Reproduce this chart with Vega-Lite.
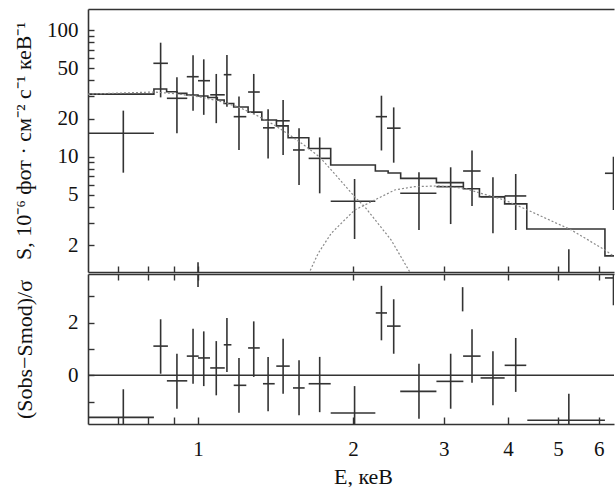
{
  "$schema": "https://vega.github.io/schema/vega-lite/v6.json",
  "padding": {"left": 12, "top": 9, "right": 0, "bottom": 0},
  "background": "white",
  "config": {
    "font": "Liberation Serif, Times New Roman, serif",
    "view": {"stroke": null},
    "concat": {"spacing": 0},
    "axis": {
      "labelFont": "Liberation Serif, Times New Roman, serif", "titleFont": "Liberation Serif, Times New Roman, serif",
      "labelFontSize": 21, "titleFontSize": 22, "titleFontWeight": "normal",
      "labelColor": "#111", "titleColor": "#111",
      "domainColor": "#333", "tickColor": "#333", "domainWidth": 1.6, "tickWidth": 1.4,
      "grid": false, "labelOverlap": false, "labelFlush": false
    }
  },
  "datasets": {
    "spec": [
      {"E": 0.716, "Elo": 0.58, "Ehi": 0.821, "S": 15.3, "Slo": 7.48, "Shi": 23.1},
      {"E": 0.846, "Elo": 0.819, "Ehi": 0.874, "S": 54.6, "Slo": 29.4, "Shi": 79.4},
      {"E": 0.910, "Elo": 0.870, "Ehi": 0.953, "S": 28.9, "Slo": 15.3, "Shi": 42.4},
      {"E": 0.978, "Elo": 0.951, "Ehi": 1.003, "S": 42.8, "Slo": 23.1, "Shi": 63.1},
      {"E": 1.026, "Elo": 1.0, "Ehi": 1.055, "S": 39.8, "Slo": 21.4, "Shi": 58.7},
      {"E": 1.085, "Elo": 1.056, "Ehi": 1.127, "S": 30.8, "Slo": 18.4, "Shi": 45.0},
      {"E": 1.138, "Elo": 1.122, "Ehi": 1.161, "S": 44.4, "Slo": 24.8, "Shi": 63.5},
      {"E": 1.201, "Elo": 1.173, "Ehi": 1.241, "S": 20.7, "Slo": 11.3, "Shi": 29.8},
      {"E": 1.283, "Elo": 1.251, "Ehi": 1.318, "S": 32.4, "Slo": 21.7, "Shi": 45.0},
      {"E": 1.368, "Elo": 1.337, "Ehi": 1.409, "S": 16.9, "Slo": 9.7, "Shi": 23.7},
      {"E": 1.463, "Elo": 1.419, "Ehi": 1.507, "S": 19.2, "Slo": 10.3, "Shi": 28.0},
      {"E": 1.571, "Elo": 1.529, "Ehi": 1.611, "S": 11.3, "Slo": 5.98, "Shi": 16.8},
      {"E": 1.723, "Elo": 1.640, "Ehi": 1.810, "S": 9.7, "Slo": 5.14, "Shi": 14.2},
      {"E": 2.014, "Elo": 1.810, "Ehi": 2.21, "S": 4.45, "Slo": 2.24, "Shi": 6.67},
      {"E": 2.271, "Elo": 2.214, "Ehi": 2.328, "S": 20.7, "Slo": 11.2, "Shi": 30.3},
      {"E": 2.399, "Elo": 2.328, "Ehi": 2.474, "S": 16.8, "Slo": 8.97, "Shi": 24.5},
      {"E": 2.686, "Elo": 2.470, "Ehi": 2.904, "S": 5.14, "Slo": 2.64, "Shi": 7.54},
      {"E": 3.095, "Elo": 2.904, "Ehi": 3.276, "S": 5.80, "Slo": 2.94, "Shi": 8.25},
      {"E": 3.405, "Elo": 3.272, "Ehi": 3.538, "S": 7.71, "Slo": 4.08, "Shi": 11.2},
      {"E": 3.739, "Elo": 3.538, "Ehi": 3.94, "S": 4.83, "Slo": 2.49, "Shi": 6.87},
      {"E": 4.14, "Elo": 3.94, "Ehi": 4.34, "S": 4.90, "Slo": 2.64, "Shi": 7.30},
      {"E": 5.25, "Elo": 4.36, "Ehi": 6.17, "S": 1.0, "Slo": 0.6, "Shi": 1.86},
      {"E": 6.41, "Elo": 6.17, "Ehi": 6.65, "S": 7.40, "Slo": 3.79, "Shi": 10.0},
      {"E": 1.0, "Elo": 1.0, "Ehi": 1.0, "S": 0.9, "Slo": 0.7, "Shi": 1.47}
    ],
    "resid": [
      {"E": 0.716, "Elo": 0.58, "Ehi": 0.821, "r": -1.60, "rlo": -2.7, "rhi": -0.53},
      {"E": 0.846, "Elo": 0.819, "Ehi": 0.874, "r": 1.11, "rlo": 0.06, "rhi": 2.13},
      {"E": 0.910, "Elo": 0.870, "Ehi": 0.953, "r": -0.21, "rlo": -1.27, "rhi": 0.82},
      {"E": 0.978, "Elo": 0.951, "Ehi": 1.003, "r": 0.73, "rlo": -0.32, "rhi": 1.77},
      {"E": 1.026, "Elo": 1.0, "Ehi": 1.055, "r": 0.66, "rlo": -0.41, "rhi": 1.67},
      {"E": 1.085, "Elo": 1.056, "Ehi": 1.127, "r": 0.28, "rlo": -0.76, "rhi": 1.30},
      {"E": 1.138, "Elo": 1.122, "Ehi": 1.161, "r": 1.16, "rlo": 0.13, "rhi": 2.18},
      {"E": 1.201, "Elo": 1.173, "Ehi": 1.241, "r": -0.38, "rlo": -1.42, "rhi": 0.66},
      {"E": 1.283, "Elo": 1.251, "Ehi": 1.318, "r": 1.04, "rlo": -0.06, "rhi": 2.05},
      {"E": 1.368, "Elo": 1.337, "Ehi": 1.409, "r": -0.32, "rlo": -1.37, "rhi": 0.70},
      {"E": 1.463, "Elo": 1.419, "Ehi": 1.507, "r": 0.35, "rlo": -0.70, "rhi": 1.39},
      {"E": 1.571, "Elo": 1.529, "Ehi": 1.611, "r": -0.48, "rlo": -1.52, "rhi": 0.57},
      {"E": 1.723, "Elo": 1.640, "Ehi": 1.810, "r": -0.32, "rlo": -1.40, "rhi": 0.70},
      {"E": 2.014, "Elo": 1.810, "Ehi": 2.21, "r": -1.43, "rlo": -2.5, "rhi": -0.41},
      {"E": 2.271, "Elo": 2.214, "Ehi": 2.328, "r": 2.37, "rlo": 1.33, "rhi": 3.40},
      {"E": 2.399, "Elo": 2.328, "Ehi": 2.474, "r": 1.87, "rlo": 0.82, "rhi": 2.89},
      {"E": 2.686, "Elo": 2.470, "Ehi": 2.904, "r": -0.61, "rlo": -1.65, "rhi": 0.44},
      {"E": 3.095, "Elo": 2.904, "Ehi": 3.276, "r": -0.23, "rlo": -1.27, "rhi": 0.82},
      {"E": 3.265, "Elo": 3.265, "Ehi": 3.265, "r": 2.9, "rlo": 2.43, "rhi": 3.35},
      {"E": 3.405, "Elo": 3.272, "Ehi": 3.538, "r": 0.73, "rlo": -0.28, "rhi": 1.75},
      {"E": 3.739, "Elo": 3.538, "Ehi": 3.94, "r": -0.10, "rlo": -1.14, "rhi": 0.91},
      {"E": 4.14, "Elo": 3.94, "Ehi": 4.34, "r": 0.38, "rlo": -0.63, "rhi": 1.42},
      {"E": 5.25, "Elo": 4.36, "Ehi": 6.17, "r": -1.71, "rlo": -2.7, "rhi": -0.70},
      {"E": 6.41, "Elo": 6.17, "Ehi": 6.65, "r": 3.70, "rlo": 2.66, "rhi": 4.7},
      {"E": 1.0, "Elo": 1.0, "Ehi": 1.0, "r": 4.3, "rlo": 3.36, "rhi": 5.3}
    ],
    "model": [
      {"E": 0.58, "S": 31.2}, {"E": 0.821, "S": 34.2}, {"E": 0.869, "S": 32.6},
      {"E": 0.91, "S": 31.6}, {"E": 0.951, "S": 30.7}, {"E": 1.0, "S": 30.1},
      {"E": 1.045, "S": 29.3}, {"E": 1.09, "S": 28.0}, {"E": 1.124, "S": 26.3},
      {"E": 1.173, "S": 24.7}, {"E": 1.251, "S": 22.5}, {"E": 1.33, "S": 19.5},
      {"E": 1.42, "S": 17.5}, {"E": 1.496, "S": 14.1}, {"E": 1.641, "S": 11.6},
      {"E": 1.81, "S": 8.6}, {"E": 2.21, "S": 7.71}, {"E": 2.34, "S": 7.43},
      {"E": 2.475, "S": 6.75}, {"E": 2.904, "S": 6.24}, {"E": 3.276, "S": 5.59},
      {"E": 3.52, "S": 4.83}, {"E": 3.94, "S": 4.24}, {"E": 4.35, "S": 2.69},
      {"E": 6.17, "S": 1.65}, {"E": 6.7, "S": 1.65}
    ],
    "comp": [
      {"c": "A", "E": 0.6114, "S": 31.2}, {"c": "A", "E": 0.74, "S": 32.0}, {"c": "A", "E": 0.82, "S": 32.4},
      {"c": "A", "E": 0.9, "S": 31.5}, {"c": "A", "E": 1.0, "S": 29.8}, {"c": "A", "E": 1.1, "S": 27.5},
      {"c": "A", "E": 1.2, "S": 24.6}, {"c": "A", "E": 1.3, "S": 21.2}, {"c": "A", "E": 1.4, "S": 18.0},
      {"c": "A", "E": 1.5, "S": 15.0}, {"c": "A", "E": 1.6, "S": 12.5}, {"c": "A", "E": 1.72, "S": 10.0},
      {"c": "A", "E": 1.85, "S": 7.2}, {"c": "A", "E": 2.014, "S": 4.83}, {"c": "A", "E": 2.107, "S": 4.03},
      {"c": "A", "E": 2.372, "S": 2.2}, {"c": "A", "E": 2.575, "S": 1.24}, {"c": "A", "E": 2.7, "S": 0.9},
      {"c": "B", "E": 1.6, "S": 0.9}, {"c": "B", "E": 1.648, "S": 1.24}, {"c": "B", "E": 1.712, "S": 1.73},
      {"c": "B", "E": 1.815, "S": 2.49}, {"c": "B", "E": 2.014, "S": 3.79}, {"c": "B", "E": 2.203, "S": 4.55},
      {"c": "B", "E": 2.41, "S": 5.46}, {"c": "B", "E": 2.633, "S": 5.8}, {"c": "B", "E": 2.925, "S": 5.88},
      {"c": "B", "E": 3.29, "S": 5.63}, {"c": "B", "E": 3.545, "S": 5.14}, {"c": "B", "E": 3.94, "S": 4.55},
      {"c": "B", "E": 4.37, "S": 3.79}, {"c": "B", "E": 5.31, "S": 2.64}, {"c": "B", "E": 6.16, "S": 1.84},
      {"c": "B", "E": 6.7, "S": 1.45}
    ]
  },
  "vconcat": [
    {
      "width": 526,
      "height": 263,
      "resolve": {"axis": {"x": "independent"}},
      "layer": [
        {
          "data": {"name": "spec"},
          "mark": {"type": "rule", "stroke": "#333", "strokeWidth": 1.6, "clip": true},
          "encoding": {
            "x": {"field": "Elo", "type": "quantitative",
              "scale": {"type": "log", "domain": [0.6114, 6.425], "nice": false},
              "axis": {"orient": "bottom", "values": [0.7, 0.8, 0.9, 1, 2, 3, 4, 5, 6], "labels": false, "tickSize": -6, "title": null}},
            "x2": {"field": "Ehi"},
            "y": {"field": "S", "type": "quantitative",
              "scale": {"type": "log", "domain": [1.23, 146.5], "nice": false},
              "axis": {"orient": "left", "values": [2, 3, 4, 5, 6, 7, 8, 9, 10, 20, 30, 40, 50, 60, 70, 80, 90, 100],
                "labelExpr": "indexof([2, 5, 10, 20, 50, 100], datum.value) >= 0 ? format(datum.value, 'd') : ''",
                "tickSize": -6, "labelPadding": 16,
                "title": "S, 10⁻⁶ фот · см⁻² с⁻¹ кеВ⁻¹", "titlePadding": 11}}
          }
        },
        {
          "data": {"name": "spec"},
          "mark": {"type": "rule", "stroke": "#333", "strokeWidth": 1.6, "clip": true},
          "encoding": {
            "x": {"field": "E", "type": "quantitative",
              "scale": {"type": "log", "domain": [0.6114, 6.425], "nice": false},
              "axis": {"orient": "top", "ticks": false, "labels": false, "title": null}},
            "y": {"field": "Slo", "type": "quantitative",
              "scale": {"type": "log", "domain": [1.23, 146.5], "nice": false}},
            "y2": {"field": "Shi"}
          }
        },
        {
          "data": {"name": "model"},
          "mark": {"type": "line", "interpolate": "step-after", "stroke": "#333", "strokeWidth": 1.6, "clip": true},
          "encoding": {
            "x": {"field": "E", "type": "quantitative",
              "scale": {"type": "log", "domain": [0.6114, 6.425], "nice": false}, "axis": null},
            "y": {"field": "S", "type": "quantitative",
              "scale": {"type": "log", "domain": [1.23, 146.5], "nice": false}}
          }
        },
        {
          "data": {"name": "comp"},
          "mark": {"type": "line", "stroke": "#8a8a8a", "strokeWidth": 1.2, "strokeDash": [2, 2], "clip": true},
          "encoding": {
            "x": {"field": "E", "type": "quantitative",
              "scale": {"type": "log", "domain": [0.6114, 6.425], "nice": false}, "axis": null},
            "y": {"field": "S", "type": "quantitative",
              "scale": {"type": "log", "domain": [1.23, 146.5], "nice": false}},
            "detail": {"field": "c"}
          }
        }
      ]
    },
    {
      "width": 526,
      "height": 150,
      "resolve": {"axis": {"x": "independent"}},
      "layer": [
        {
          "data": {"values": [{"z": 0}]},
          "mark": {"type": "rule", "stroke": "#333", "strokeWidth": 1.6},
          "encoding": {
            "y": {"field": "z", "type": "quantitative",
              "scale": {"type": "linear", "domain": [-1.85, 3.85], "nice": false, "zero": false},
              "axis": {"orient": "left", "tickCount": 6,
                "labelExpr": "datum.value == 0 || datum.value == 2 ? datum.label : ''",
                "tickSize": -6, "labelPadding": 16,
                "title": "(Sobs−Smod)/σ", "titlePadding": 31}}
          }
        },
        {
          "data": {"name": "resid"},
          "mark": {"type": "rule", "stroke": "#333", "strokeWidth": 1.6, "clip": true},
          "encoding": {
            "x": {"field": "Elo", "type": "quantitative",
              "scale": {"type": "log", "domain": [0.6114, 6.425], "nice": false},
              "axis": {"orient": "bottom", "values": [0.7, 0.8, 0.9, 1, 2, 3, 4, 5, 6],
                "labelExpr": "datum.value >= 1 ? format(datum.value, 'd') : ''",
                "tickSize": -7, "labelPadding": 21, "title": "E, кеВ", "titlePadding": 7, "titleX": 275}},
            "x2": {"field": "Ehi"},
            "y": {"field": "r", "type": "quantitative",
              "scale": {"type": "linear", "domain": [-1.85, 3.85], "nice": false, "zero": false}}
          }
        },
        {
          "data": {"name": "resid"},
          "mark": {"type": "rule", "stroke": "#333", "strokeWidth": 1.6, "clip": true},
          "encoding": {
            "x": {"field": "E", "type": "quantitative",
              "scale": {"type": "log", "domain": [0.6114, 6.425], "nice": false},
              "axis": {"orient": "top", "values": [0.7, 0.8, 0.9, 1, 2, 3, 4, 5, 6], "labels": false, "tickSize": -6, "title": null}},
            "y": {"field": "rlo", "type": "quantitative",
              "scale": {"type": "linear", "domain": [-1.85, 3.85], "nice": false, "zero": false}},
            "y2": {"field": "rhi"}
          }
        }
      ]
    }
  ]
}
